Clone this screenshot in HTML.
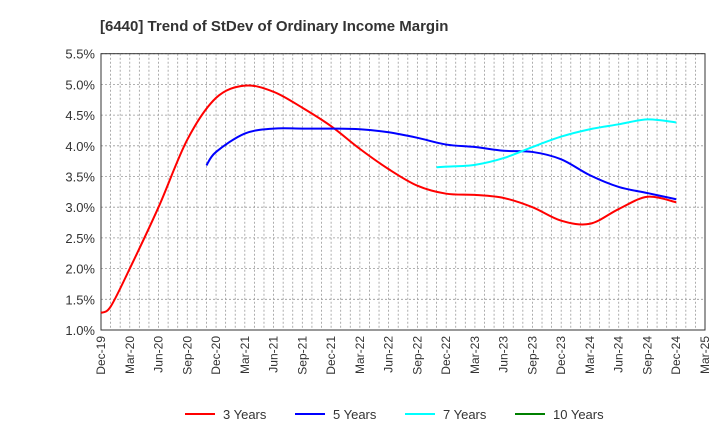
<!DOCTYPE html>
<html><head><meta charset="utf-8"><style>
body{margin:0;background:#fff;font-family:"Liberation Sans",Arial,sans-serif}
svg text{font-family:"Liberation Sans",Arial,sans-serif}
</style></head><body>
<svg id="c" width="720" height="440" viewBox="0 0 720 440">
<text x="100" y="31" font-size="15" font-weight="bold" fill="#333">[6440]  Trend of StDev of Ordinary Income Margin</text>
<g id="grid"></g><g id="axes"></g><g id="series"></g><g id="legend"></g>
</svg>
<script>
const xTickLabels=["Dec-19","Mar-20","Jun-20","Sep-20","Dec-20","Mar-21","Jun-21","Sep-21","Dec-21","Mar-22","Jun-22","Sep-22","Dec-22","Mar-23","Jun-23","Sep-23","Dec-23","Mar-24","Jun-24","Sep-24","Dec-24","Mar-25"];
const yTicks=[1.0,1.5,2.0,2.5,3.0,3.5,4.0,4.5,5.0,5.5];
const months3=[0,1,3,6,9,12,15,18,21,24,27,30,33,36,39,42,45,48,51,54,57,60];
const values3=[1.28,1.38,2.0,3.0,4.1,4.78,4.98,4.88,4.62,4.32,3.95,3.62,3.35,3.22,3.2,3.15,3.0,2.78,2.73,2.97,3.17,3.08];
const months5=[11,12,15,18,21,24,27,30,33,36,39,42,45,48,51,54,57,60];
const values5=[3.68,3.9,4.2,4.28,4.28,4.28,4.27,4.22,4.13,4.02,3.98,3.92,3.9,3.78,3.52,3.33,3.23,3.13];
const months7=[35,36,39,42,45,48,51,54,57,60];
const values7=[3.65,3.66,3.69,3.8,3.98,4.15,4.27,4.35,4.43,4.38];
const months10=[];const values10=[];
const L=101,R=705,T=53.7,B=330,NM=63;
const xs=m=>L+m*(R-L)/NM, ys=v=>B-(v-1)*(B-T)/4.5;
const NS="http://www.w3.org/2000/svg";
function mk(t,a,p){const e=document.createElementNS(NS,t);for(const k in a)e.setAttribute(k,a[k]);p.appendChild(e);return e;}
const grid=document.getElementById('grid'),axes=document.getElementById('axes'),ser=document.getElementById('series'),leg=document.getElementById('legend');
for(let m=1;m<NM;m++){const l=mk('line',{x1:xs(m),x2:xs(m),y1:T,y2:B,stroke:'#999','stroke-dasharray':'2,2','stroke-width':0.8},grid);

}
yTicks.forEach(v=>{const l=mk('line',{x1:L,x2:R,y1:ys(v),y2:ys(v),stroke:'#999','stroke-dasharray':'2,2','stroke-width':0.8},grid);


const t=mk('text',{x:L-6,y:ys(v)+5,'text-anchor':'end','font-size':13,fill:'#333'},axes);t.textContent=v.toFixed(1)+'%';

});
const fr=mk('rect',{x:L,y:T,width:R-L,height:B-T,fill:'none',stroke:'#333','stroke-width':1},axes);


xTickLabels.forEach((s,i)=>{const x=xs(i*3);const t=mk('text',{x:0,y:0,'text-anchor':'end','font-size':12,fill:'#333',transform:`translate(${x+4},${B+6}) rotate(-90)`},axes);t.textContent=s;

});
function path(ms,vs){const p=ms.map((m,i)=>[xs(m),ys(vs[i])]);if(p.length<2)return '';let d=`M${p[0][0]},${p[0][1]}`;
for(let i=0;i<p.length-1;i++){const p0=p[i-1]||p[i],p1=p[i],p2=p[i+1],p3=p[i+2]||p2;
d+=` C${p1[0]+(p2[0]-p0[0])/6},${p1[1]+(p2[1]-p0[1])/6} ${p2[0]-(p3[0]-p1[0])/6},${p2[1]-(p3[1]-p1[1])/6} ${p2[0]},${p2[1]}`;}return d;}
const S=[["3 Years","#ff0000",months3,values3,185],["5 Years","#0000ff",months5,values5,295],["7 Years","#00ffff",months7,values7,405],["10 Years","#008000",months10,values10,515]];
S.forEach(s=>{if(s[2].length){const p=mk('path',{d:path(s[2],s[3]),fill:'none',stroke:s[1],'stroke-width':2},ser);

}
const g=mk('g',{},leg);


mk('line',{x1:s[4],x2:s[4]+30,y1:414,y2:414,stroke:s[1],'stroke-width':2},g);
const t=mk('text',{x:s[4]+38,y:419,'font-size':13,fill:'#333'},g);t.textContent=s[0];});
</script>
</body></html>
